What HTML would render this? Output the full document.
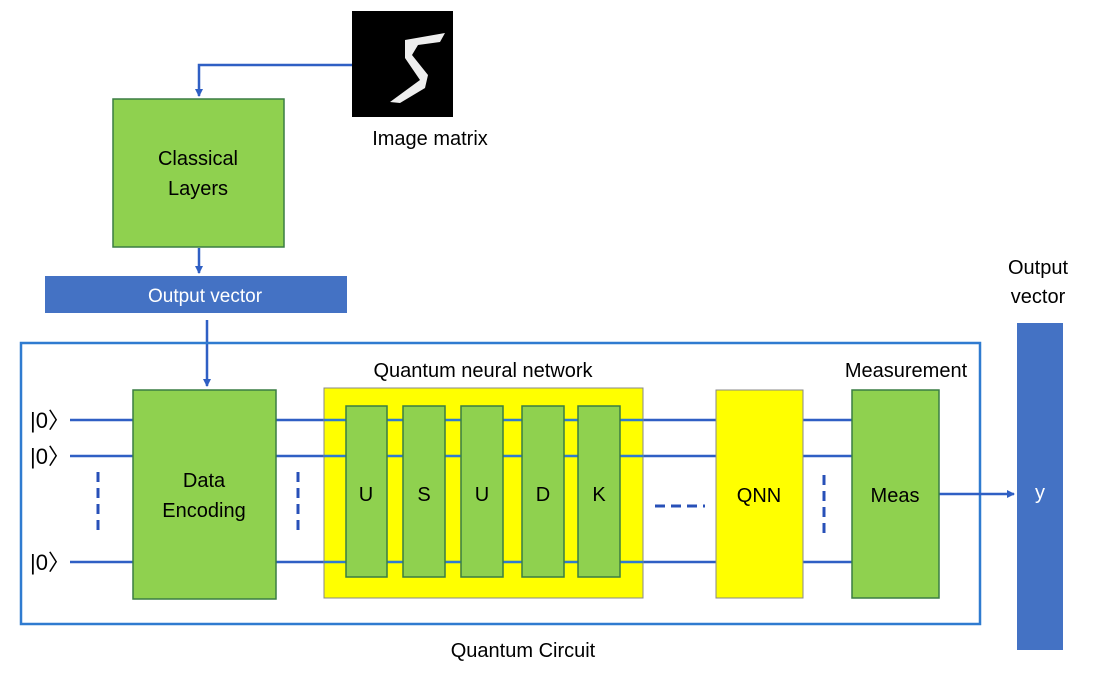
<!DOCTYPE html>
<html><head><style>
body{margin:0;background:#fff;}
svg text{font-family:"Liberation Sans",sans-serif;}
</style></head><body>
<svg width="1096" height="668" viewBox="0 0 1096 668" xmlns="http://www.w3.org/2000/svg">
<defs><marker id="a" markerWidth="8" markerHeight="8" refX="7" refY="4" orient="auto" markerUnits="userSpaceOnUse"><path d="M0,0 L8,4 L0,8 z" fill="#2f5fc4"/></marker></defs>
<g stroke="#2f5fc4" stroke-width="2.5" fill="none">
<polyline points="352,65 199,65 199,96" marker-end="url(#a)"/>
<line x1="199" y1="248" x2="199" y2="273" marker-end="url(#a)"/>
<line x1="207" y1="320" x2="207" y2="386" marker-end="url(#a)"/>
<rect x="21" y="343" width="959" height="281" stroke="#2f7bd0"/>
<line x1="70" y1="420" x2="860" y2="420"/>
<line x1="70" y1="456" x2="860" y2="456"/>
<line x1="70" y1="562" x2="860" y2="562"/>
<line x1="939" y1="494" x2="1014" y2="494" marker-end="url(#a)"/>
<g stroke-dasharray="10,6" stroke-width="3" stroke="#2850b8">
<line x1="98" y1="472" x2="98" y2="530"/>
<line x1="298" y1="472" x2="298" y2="530"/>
<line x1="824" y1="475" x2="824" y2="538"/>
<line x1="655" y1="506" x2="705" y2="506"/>
</g></g>
<rect x="352" y="11" width="101" height="106" fill="#000"/>
<path d="M405,40 L445,33 L440,42 L418,45 L412,55 L428,75 L425,88 L400,103 L390,102 L420,80 L405,58 Z" fill="#eee"/>
<text x="430" y="145" font-size="20" text-anchor="middle">Image matrix</text>
<rect x="113" y="99" width="171" height="148" fill="#8fd14f" stroke="#3a7d44" stroke-width="1.5"/>
<text x="198" y="165" font-size="20" text-anchor="middle">Classical</text>
<text x="198" y="195" font-size="20" text-anchor="middle">Layers</text>
<rect x="45" y="276" width="302" height="37" fill="#4472c4"/>
<text x="205" y="302" font-size="19" fill="#fff" text-anchor="middle">Output vector</text>
<rect x="133" y="390" width="143" height="209" fill="#8fd14f" stroke="#3a7d44" stroke-width="1.5"/>
<text x="204" y="487" font-size="20" text-anchor="middle">Data</text>
<text x="204" y="517" font-size="20" text-anchor="middle">Encoding</text>
<rect x="324" y="388" width="319" height="210" fill="#ffff00" stroke="#888" stroke-width="1"/>
<g stroke="#2f7bd0" stroke-width="2.5"><line x1="324" y1="420" x2="643" y2="420"/><line x1="324" y1="456" x2="643" y2="456"/><line x1="324" y1="562" x2="643" y2="562"/></g>
<g fill="#8fd14f" stroke="#3a7d44" stroke-width="1.5">
<rect x="346" y="406" width="41" height="171"/><rect x="403" y="406" width="42" height="171"/><rect x="461" y="406" width="42" height="171"/><rect x="522" y="406" width="42" height="171"/><rect x="578" y="406" width="42" height="171"/>
</g>
<g font-size="20" text-anchor="middle"><text x="366" y="501">U</text><text x="424" y="501">S</text><text x="482" y="501">U</text><text x="543" y="501">D</text><text x="599" y="501">K</text></g>
<rect x="716" y="390" width="87" height="208" fill="#ffff00" stroke="#888" stroke-width="1"/>
<text x="759" y="502" font-size="20" text-anchor="middle">QNN</text>
<rect x="852" y="390" width="87" height="208" fill="#8fd14f" stroke="#3a7d44" stroke-width="1.5"/>
<text x="895" y="502" font-size="20" text-anchor="middle">Meas</text>
<rect x="1017" y="323" width="46" height="327" fill="#4472c4"/>
<text x="1040" y="499" font-size="20" fill="#fff" text-anchor="middle">y</text>
<text x="1038" y="274" font-size="20" text-anchor="middle">Output</text>
<text x="1038" y="303" font-size="20" text-anchor="middle">vector</text>
<text x="483" y="377" font-size="20" text-anchor="middle">Quantum neural network</text>
<text x="906" y="377" font-size="20" text-anchor="middle">Measurement</text>
<text x="523" y="657" font-size="20" text-anchor="middle">Quantum Circuit</text>
<g font-size="22"><text x="30" y="428">|0〉</text><text x="30" y="464">|0〉</text><text x="30" y="570">|0〉</text></g>
</svg>
</body></html>
